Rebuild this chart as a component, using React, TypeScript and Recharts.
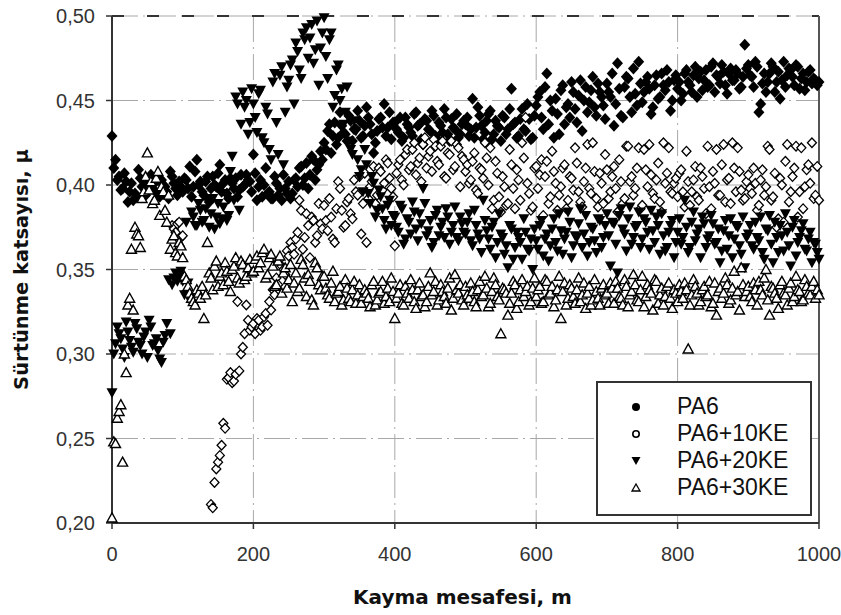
import { ScatterChart, Scatter, XAxis, YAxis, CartesianGrid, ReferenceLine, Legend } from 'recharts'

// sliding distance (m) of the first batch of readings
const distance = [
  0, 5, 10, 15, 20, 25, 30, 35, 40, 45, 50, 55, 60, 65, 70, 75, 80, 85, 90, 95,
  100, 105, 110, 115, 120, 125, 130, 135, 140, 145, 150, 155, 160, 165, 170, 175, 180, 185, 190, 195,
  200, 205, 210, 215, 220, 225, 230, 235, 240, 245, 250, 255, 260, 265, 270, 275, 280, 285, 290, 295,
  300, 305, 310, 315, 320, 325, 330, 335, 340, 345, 350, 355, 360, 365, 370, 375, 380, 385, 390, 395,
  400, 405, 410, 415, 420, 425, 430, 435, 440, 445, 450, 455, 460, 465, 470, 475, 480, 485, 490, 495,
  500, 505, 510, 515, 520, 525, 530, 535, 540, 545, 550, 555, 560, 565, 570, 575, 580, 585, 590, 595,
  600, 605, 610, 615, 620, 625, 630, 635, 640, 645, 650, 655, 660, 665, 670, 675, 680, 685, 690, 695,
  700, 705, 710, 715, 720, 725, 730, 735, 740, 745, 750, 755, 760, 765, 770, 775, 780, 785, 790, 795,
  800, 805, 810, 815, 820, 825, 830, 835, 840, 845, 850, 855, 860, 865, 870, 875, 880, 885, 890, 895,
  900, 905, 910, 915, 920, 925, 930, 935, 940, 945, 950, 955, 960, 965, 970, 975, 980, 985, 990, 995,
  1000,
]

// sliding distance (m) of the second batch, in between
const distance2 = [
  2.5, 7.5, 12.5, 17.5, 22.5, 27.5, 32.5, 37.5, 42.5, 47.5, 52.5, 57.5, 62.5, 67.5, 72.5, 77.5, 82.5, 87.5, 92.5, 97.5,
  102.5, 107.5, 112.5, 117.5, 122.5, 127.5, 132.5, 137.5, 142.5, 147.5, 152.5, 157.5, 162.5, 167.5, 172.5, 177.5, 182.5, 187.5, 192.5, 197.5,
  202.5, 207.5, 212.5, 217.5, 222.5, 227.5, 232.5, 237.5, 242.5, 247.5, 252.5, 257.5, 262.5, 267.5, 272.5, 277.5, 282.5, 287.5, 292.5, 297.5,
  302.5, 307.5, 312.5, 317.5, 322.5, 327.5, 332.5, 337.5, 342.5, 347.5, 352.5, 357.5, 362.5, 367.5, 372.5, 377.5, 382.5, 387.5, 392.5, 397.5,
  402.5, 407.5, 412.5, 417.5, 422.5, 427.5, 432.5, 437.5, 442.5, 447.5, 452.5, 457.5, 462.5, 467.5, 472.5, 477.5, 482.5, 487.5, 492.5, 497.5,
  502.5, 507.5, 512.5, 517.5, 522.5, 527.5, 532.5, 537.5, 542.5, 547.5, 552.5, 557.5, 562.5, 567.5, 572.5, 577.5, 582.5, 587.5, 592.5, 597.5,
  602.5, 607.5, 612.5, 617.5, 622.5, 627.5, 632.5, 637.5, 642.5, 647.5, 652.5, 657.5, 662.5, 667.5, 672.5, 677.5, 682.5, 687.5, 692.5, 697.5,
  702.5, 707.5, 712.5, 717.5, 722.5, 727.5, 732.5, 737.5, 742.5, 747.5, 752.5, 757.5, 762.5, 767.5, 772.5, 777.5, 782.5, 787.5, 792.5, 797.5,
  802.5, 807.5, 812.5, 817.5, 822.5, 827.5, 832.5, 837.5, 842.5, 847.5, 852.5, 857.5, 862.5, 867.5, 872.5, 877.5, 882.5, 887.5, 892.5, 897.5,
  902.5, 907.5, 912.5, 917.5, 922.5, 927.5, 932.5, 937.5, 942.5, 947.5, 952.5, 957.5, 962.5, 967.5, 972.5, 977.5, 982.5, 987.5, 992.5, 997.5,
]

// friction coefficient x 1000
const pa6 = [
  429, 415, 405, 398, 402, 396, 391, 393, 404, 400, 397, 406, 401, 395, 403, 399, 392, 405, 398, 402,
  396, 403, 411, 399, 415, 402, 394, 405, 398, 400, 407, 396, 403, 392, 401, 404, 397, 399, 406, 402,
  418, 391, 403, 400, 395, 392, 405, 394, 391, 398, 402, 395, 404, 410, 400, 413, 406, 415, 409, 420,
  425, 432, 419, 437, 428, 435, 430, 441, 426, 433, 438, 429, 446, 436, 419, 432, 440, 448, 434, 427,
  437, 431, 426, 440, 434, 429, 443, 436, 424, 438, 432, 441, 427, 435, 445, 430, 439, 433, 428, 436,
  436, 429, 451, 434, 441, 427, 438, 444, 430, 435, 426, 440, 433, 457, 437, 429, 445, 432, 439, 428,
  447, 455, 433, 466, 450, 428, 442, 456, 436, 448, 461, 445, 453, 432, 458, 449, 464, 441, 455, 447,
  460, 452, 435, 472, 441, 458, 463, 443, 454, 473, 449, 461, 457, 446, 465, 452, 459, 468, 444, 462,
  457, 450, 466, 461, 455, 470, 463, 456, 468, 459, 472, 465, 460, 467, 454, 469, 462, 466, 458, 483,
  471, 464, 473, 443, 460, 455, 466, 470, 461, 451, 473, 465, 468, 459, 470, 463, 456, 467, 460, 462,
  461,
]
const pa6b = [
  410, 403, 397, 407, 390, 401, 395, 409, 399, 394, 402, 398, 405, 393, 400, 396, 408, 401, 394, 399,
  404, 398, 393, 408, 400, 396, 402, 390, 405, 399, 412, 401, 395, 404, 398, 393, 406, 400, 403, 396,
  407, 399, 393, 410, 396, 392, 401, 398, 406, 395, 392, 403, 399, 411, 404, 398, 417, 403, 412, 415,
  421, 436, 429, 424, 443, 431, 426, 438, 433, 444, 428, 435, 440, 430, 425, 439, 434, 429, 443, 437,
  433, 440, 428, 436, 431, 442, 435, 427, 439, 433, 444, 429, 437, 431, 440, 426, 434, 442, 430, 438,
  440, 433, 428, 446, 435, 431, 442, 427, 438, 434, 441, 430, 445, 436, 428, 439, 433, 448, 427, 441,
  452, 440, 458, 436, 444, 451, 430, 459, 446, 440, 455, 437, 462, 450, 443, 456, 446, 460, 452, 439,
  455, 466, 448, 457, 440, 464, 452, 469, 447, 460, 455, 464, 442, 459, 451, 466, 456, 461, 450, 465,
  461, 454, 468, 459, 465, 452, 467, 462, 458, 470, 455, 464, 471, 459, 466, 462, 468, 457, 464, 469,
  465, 458, 470, 448, 466, 461, 472, 455, 467, 462, 458, 469, 464, 471, 457, 466, 461, 468, 463, 459,
]

const pa6ke10 = [
  null, null, null, null, null, null, null, null, null, null, null, null, null, null, null, null, null, 376, 372, 378,
  370, null, null, null, null, null, null, null, 211, 224, 236, 246, 256, 286, 283, 288, 290, 304, 329, 314,
  318, 321, 314, 322, 317, 326, 335, 341, 352, 347, 358, 363, 368, 391, 362, 383, 357, 379, 370, 377,
  388, 373, 381, 366, 402, 385, 376, 392, 380, 396, 405, 389, 366, 399, 411, 394, 408, 401, 413, 398,
  364, 412, 403, 418, 409, 421, 406, 416, 424, 410, 420, 427, 414, 423, 405, 419, 426, 411, 422, 417,
  408, 401, 414, 397, 410, 404, 416, 422, 391, 407, 384, 399, 389, 412, 386, 403, 425, 440, 395, 387,
  411, 406, 382, 414, 393, 408, 385, 399, 412, 391, 404, 422, 396, 387, 410, 398, 425, 392, 407, 389,
  409, 396, 411, 384, 402, 392, 423, 405, 398, 422, 388, 409, 424, 395, 403, 390, 425, 407, 396, 401,
  393, 409, 387, 402, 396, 411, 391, 405, 383, 399, 408, 421, 394, 424, 403, 389, 410, 422, 397, 392,
  406, 395, 401, 388, 409, 399, 421, 393, 375, 404, 378, 424, 396, 410, 381, 422, 399, 412, 425, 394,
  391,
]
const pa6ke10b = [
  null, null, null, null, null, null, null, null, null, null, null, null, null, null, null, null, null, 374, 377, 369,
  null, null, null, null, null, null, null, null, 209, 232, 240, 259, 285, 289, 284, 331, 300, 312, 320, 316,
  312, 320, 316, 324, 331, 338, 345, 356, 350, 361, 366, 359, 372, 385, 369, 376, 381, 366, 389, 374,
  379, 392, 368, 386, 398, 375, 390, 383, 403, 394, 371, 407, 392, 402, 389, 410, 397, 415, 404, 393,
  407, 415, 400, 421, 411, 425, 413, 402, 428, 417, 408, 423, 412, 426, 404, 418, 409, 424, 399, 415,
  412, 403, 419, 395, 409, 425, 400, 386, 414, 393, 405, 388, 421, 398, 409, 391, 416, 401, 385, 410,
  398, 415, 405, 389, 420, 401, 394, 410, 386, 405, 397, 413, 390, 402, 424, 395, 408, 387, 401, 418,
  392, 405, 398, 415, 389, 423, 402, 394, 410, 386, 421, 399, 406, 392, 413, 384, 401, 422, 395, 404,
  407, 396, 420, 388, 403, 393, 410, 398, 423, 386, 401, 394, 412, 390, 404, 425, 396, 408, 391, 402,
  398, 410, 385, 403, 394, 423, 391, 407, 380, 400, 414, 390, 405, 423, 396, 386, 409, 401, 392, 411,
]

const pa6ke20 = [
  277, 306, 312, 303, 319, 308, 301, 315, 305, 310, 298, 316, 306, 302, 295, 311, 344, 341, 348, 346,
  343, 378, 332, 381, 376, 385, 379, 391, 383, 374, 389, 380, 395, 382, 417, 452, 385, 455, 450, 437,
  448, 431, 456, 425, 442, 415, 466, 418, 470, 443, 462, 474, 484, 468, 490, 493, 487, 472, 497, 481,
  499, 463, 490, 453, 471, 457, 443, 426, 418, 432, 405, 396, 412, 389, 401, 385, 393, 379, 388, 376,
  381, 372, 386, 368, 378, 390, 374, 383, 398, 370, 379, 366, 385, 375, 369, 381, 372, 387, 367, 377,
  371, 383, 364, 376, 368, 391, 373, 362, 378, 366, 371, 359, 351, 374, 363, 369, 356, 372, 361, 350,
  367, 376, 358, 371, 364, 380, 361, 373, 368, 384, 357, 370, 377, 363, 382, 366, 374, 360, 379, 369,
  383, 352, 377, 348, 386, 371, 380, 365, 375, 384, 368, 378, 362, 373, 381, 359, 370, 363, 376, 357,
  372, 365, 391, 360, 378, 367, 374, 381, 363, 370, 377, 366, 354, 373, 362, 380, 368, 375, 359, 351,
  371, 364, 378, 367, 360, 374, 382, 354, 369, 376, 361, 372, 352, 379, 366, 373, 362, 368, 354, 365,
  356,
]
const pa6ke20b = [
  300, 316, 309, 298, 313, 304, 318, 307, 300, 313, 320, 305, 309, 297, 307, 318, 312, 345, 343, 349,
  335, 342, 384, 376, 389, 378, 386, 375, 392, 381, 377, 387, 379, 408, 391, 448, 436, 446, 430, 457,
  440, 454, 428, 446, 421, 461, 437, 465, 412, 458, 471, 448, 479, 463, 486, 475, 495, 480, 459, 490,
  476, 486, 446, 468, 450, 436, 458, 421, 438, 415, 409, 421, 395, 405, 381, 397, 386, 374, 391, 382,
  375, 388, 365, 380, 371, 384, 367, 377, 389, 373, 363, 382, 370, 378, 386, 365, 376, 369, 381, 372,
  378, 367, 385, 371, 360, 379, 368, 375, 357, 383, 369, 364, 376, 356, 372, 366, 380, 362, 368, 374,
  362, 379, 368, 355, 374, 366, 383, 359, 372, 378, 364, 369, 386, 371, 358, 375, 367, 380, 363, 376,
  370, 378, 365, 382, 374, 361, 387, 369, 376, 363, 380, 372, 385, 366, 376, 383, 361, 372, 379, 366,
  380, 369, 375, 363, 384, 371, 357, 377, 368, 382, 365, 374, 361, 379, 370, 357, 376, 364, 381, 369,
  376, 362, 369, 381, 356, 373, 365, 378, 360, 370, 383, 364, 375, 358, 369, 377, 361, 372, 366, 360,
]

const pa6ke30 = [
  203, 247, 266, 236, 289, 333, 326, 371, 363, 396, 419, 402, 391, 408, 399, 385, 394, 368, 360, 366,
  357, 344, 336, 331, 338, 333, 321, 366, 345, 352, 340, 348, 354, 343, 350, 357, 342, 353, 346, 356,
  349, 358, 354, 362, 347, 359, 340, 355, 336, 351, 344, 331, 348, 339, 353, 334, 343, 329, 351, 338,
  346, 335, 342, 331, 337, 329, 344, 333, 338, 330, 341, 334, 336, 328, 343, 332, 337, 330, 339, 345,
  321, 336, 330, 340, 333, 338, 327, 342, 335, 331, 348, 337, 329, 341, 334, 339, 326, 347, 336, 332,
  340, 333, 337, 328, 343, 335, 339, 330, 345, 334, 312, 338, 323, 336, 341, 331, 344, 337, 329, 339,
  334, 340, 331, 343, 336, 328, 338, 321, 342, 333, 339, 330, 345, 335, 327, 340, 332, 337, 329, 341,
  336, 342, 330, 339, 333, 344, 328, 337, 341, 331, 346, 334, 338, 326, 343, 335, 329, 340, 333, 338,
  331, 337, 342, 303, 335, 340, 329, 338, 334, 343, 330, 323, 339, 336, 341, 332, 349, 337, 351, 334,
  340, 331, 338, 343, 335, 350, 323, 339, 333, 341, 336, 329, 342, 334, 338, 331, 344, 336, 340, 333,
  335,
]
const pa6ke30b = [
  248, 262, 270, 300, 329, 362, 375, 370, 392, 405, 397, 389, 404, 382, 396, 378, 362, 370, 358, 364,
  346, 340, 333, 329, 336, 340, 335, 348, 338, 355, 346, 341, 349, 337, 352, 345, 355, 344, 351, 348,
  356, 351, 360, 345, 357, 352, 341, 358, 348, 339, 353, 342, 337, 356, 345, 347, 332, 354, 341, 346,
  339, 333, 349, 336, 340, 332, 339, 331, 343, 335, 330, 338, 333, 341, 329, 336, 343, 334, 331, 337,
  333, 341, 329, 336, 344, 331, 338, 334, 328, 340, 335, 343, 332, 337, 330, 345, 333, 338, 341, 329,
  335, 342, 331, 338, 334, 346, 328, 337, 341, 332, 339, 336, 330, 343, 327, 338, 334, 340, 331, 345,
  338, 330, 344, 335, 340, 332, 346, 337, 329, 341, 334, 338, 331, 342, 336, 329, 344, 333, 339, 335,
  330, 339, 343, 334, 329, 340, 335, 347, 332, 338, 328, 341, 336, 344, 330, 339, 334, 342, 327, 336,
  341, 333, 338, 329, 344, 336, 331, 340, 335, 328, 342, 337, 333, 345, 330, 339, 335, 326, 341, 337,
  334, 342, 329, 338, 345, 332, 340, 336, 327, 343, 335, 339, 331, 346, 337, 332, 340, 335, 343, 338,
]

const xTicks = [0, 200, 400, 600, 800, 1000]
const yTicks = [0.2, 0.25, 0.3, 0.35, 0.4, 0.45, 0.5]
const seriesNames = ['PA6', 'PA6+10KE', 'PA6+20KE', 'PA6+30KE']

const toPoints = (xs: number[], vals: (number | null)[]) =>
  xs
    .map((d, i) => ({ x: d, y: vals[i] == null ? null : (vals[i] as number) / 1000 }))
    .filter((p) => p.y != null)

const seriesData = (a: (number | null)[], b: (number | null)[]) =>
  [...toPoints(distance, a), ...toPoints(distance2, b)].sort((p, q) => p.x - q.x)

const FilledDiamond = (p: any) => (
  <path d={`M${p.cx},${p.cy - 6}L${p.cx + 5.5},${p.cy}L${p.cx},${p.cy + 6}L${p.cx - 5.5},${p.cy}Z`} fill="#000" />
)
const OpenDiamond = (p: any) => (
  <path
    d={`M${p.cx},${p.cy - 4.8}L${p.cx + 4.5},${p.cy}L${p.cx},${p.cy + 4.8}L${p.cx - 4.5},${p.cy}Z`}
    fill="#fff"
    stroke="#000"
    strokeWidth={1.3}
  />
)
const DownTriangle = (p: any) => (
  <path d={`M${p.cx - 5.5},${p.cy - 4.5}L${p.cx + 5.5},${p.cy - 4.5}L${p.cx},${p.cy + 5.5}Z`} fill="#000" />
)
const UpTriangle = (p: any) => (
  <path
    d={`M${p.cx},${p.cy - 5}L${p.cx + 5},${p.cy + 4}L${p.cx - 5},${p.cy + 4}Z`}
    fill="#fff"
    stroke="#000"
    strokeWidth={1.4}
  />
)

const legendIcons = [
  <circle cx={7} cy={7} r={4} fill="#000" />,
  <circle cx={7} cy={7} r={3.2} fill="#fff" stroke="#000" strokeWidth={1.6} />,
  <path d="M2.5,3 L11.5,3 L7,11 Z" fill="#000" />,
  <path d="M7,3 L11,10 L3,10 Z" fill="#fff" stroke="#000" strokeWidth={1.3} />,
]

const LegendBox = () => (
  <div
    style={{
      boxSizing: 'border-box',
      width: 216,
      height: 135,
      border: '2px solid #333',
      background: '#fff',
      paddingTop: 10,
      fontFamily: '"Liberation Sans", Arial, sans-serif',
      fontSize: 23,
      color: '#111',
    }}
  >
    {seriesNames.map((name, i) => (
      <div key={name} style={{ display: 'flex', alignItems: 'center', height: 27 }}>
        <svg width={14} height={14} style={{ marginLeft: 31, marginRight: 34 }}>
          {legendIcons[i]}
        </svg>
        <span style={{ lineHeight: '27px' }}>{name}</span>
      </div>
    ))}
  </div>
)

const YTitle = (props: any) => {
  const vb = props.viewBox
  const x = vb.x + 28
  const y = vb.y + vb.height / 2
  return (
    <text
      x={x}
      y={y}
      transform={`rotate(-90, ${x}, ${y})`}
      textAnchor="middle"
      fontFamily='"DejaVu Sans", Verdana, sans-serif'
      fontWeight="bold"
      fontSize={19.5}
      fill="#111"
    >
      Sürtünme katsayısı, µ
    </text>
  )
}

const XTitle = (props: any) => {
  const vb = props.viewBox
  return (
    <text
      x={vb.x + vb.width / 2 - 3}
      y={vb.y + 81}
      textAnchor="middle"
      fontFamily='"DejaVu Sans", Verdana, sans-serif'
      fontWeight="bold"
      fontSize={20}
      fill="#111"
    >
      Kayma mesafesi, m
    </text>
  )
}

const tickStyle = { fontFamily: '"Liberation Sans", Arial, sans-serif', fontSize: 20, fill: '#333' }

export default function App() {
  return (
    <div style={{ position: 'absolute', left: 0, top: 0, width: 841, height: 615, background: '#fff' }}>
      <ScatterChart width={841} height={615} margin={{ top: 16, right: 22, bottom: 0, left: 0 }}>
        <CartesianGrid stroke="#a8a8a8" strokeDasharray="26 5 2 5" />
        <XAxis
          type="number"
          dataKey="x"
          domain={[0, 1000]}
          ticks={xTicks}
          height={92}
          tick={tickStyle}
          tickSize={6}
          tickMargin={18}
          axisLine={{ stroke: '#333', strokeWidth: 2 }}
          tickLine={{ stroke: '#333', strokeWidth: 1.5 }}
          label={<XTitle />}
        />
        <YAxis
          type="number"
          dataKey="y"
          domain={[0.2, 0.5]}
          ticks={yTicks}
          width={112}
          tick={tickStyle}
          tickSize={6}
          tickMargin={11}
          tickFormatter={(v: number) => v.toFixed(2).replace('.', ',')}
          axisLine={{ stroke: '#333', strokeWidth: 2 }}
          tickLine={{ stroke: '#333', strokeWidth: 1.5 }}
          label={<YTitle />}
        />
        <ReferenceLine y={0.5} stroke="#333" strokeWidth={2} strokeDasharray="12 23" />
        <ReferenceLine x={1000} stroke="#555" strokeWidth={2} />
        <Legend
          layout="horizontal"
          verticalAlign="middle"
          align="center"
          wrapperStyle={{ left: 596, top: 381, width: 216, height: 135 }}
          content={<LegendBox />}
        />
        <Scatter name="PA6" data={seriesData(pa6, pa6b)} shape={FilledDiamond} isAnimationActive={false} />
        <Scatter name="PA6+10KE" data={seriesData(pa6ke10, pa6ke10b)} shape={OpenDiamond} isAnimationActive={false} />
        <Scatter name="PA6+20KE" data={seriesData(pa6ke20, pa6ke20b)} shape={DownTriangle} isAnimationActive={false} />
        <Scatter name="PA6+30KE" data={seriesData(pa6ke30, pa6ke30b)} shape={UpTriangle} isAnimationActive={false} />
      </ScatterChart>
    </div>
  )
}
